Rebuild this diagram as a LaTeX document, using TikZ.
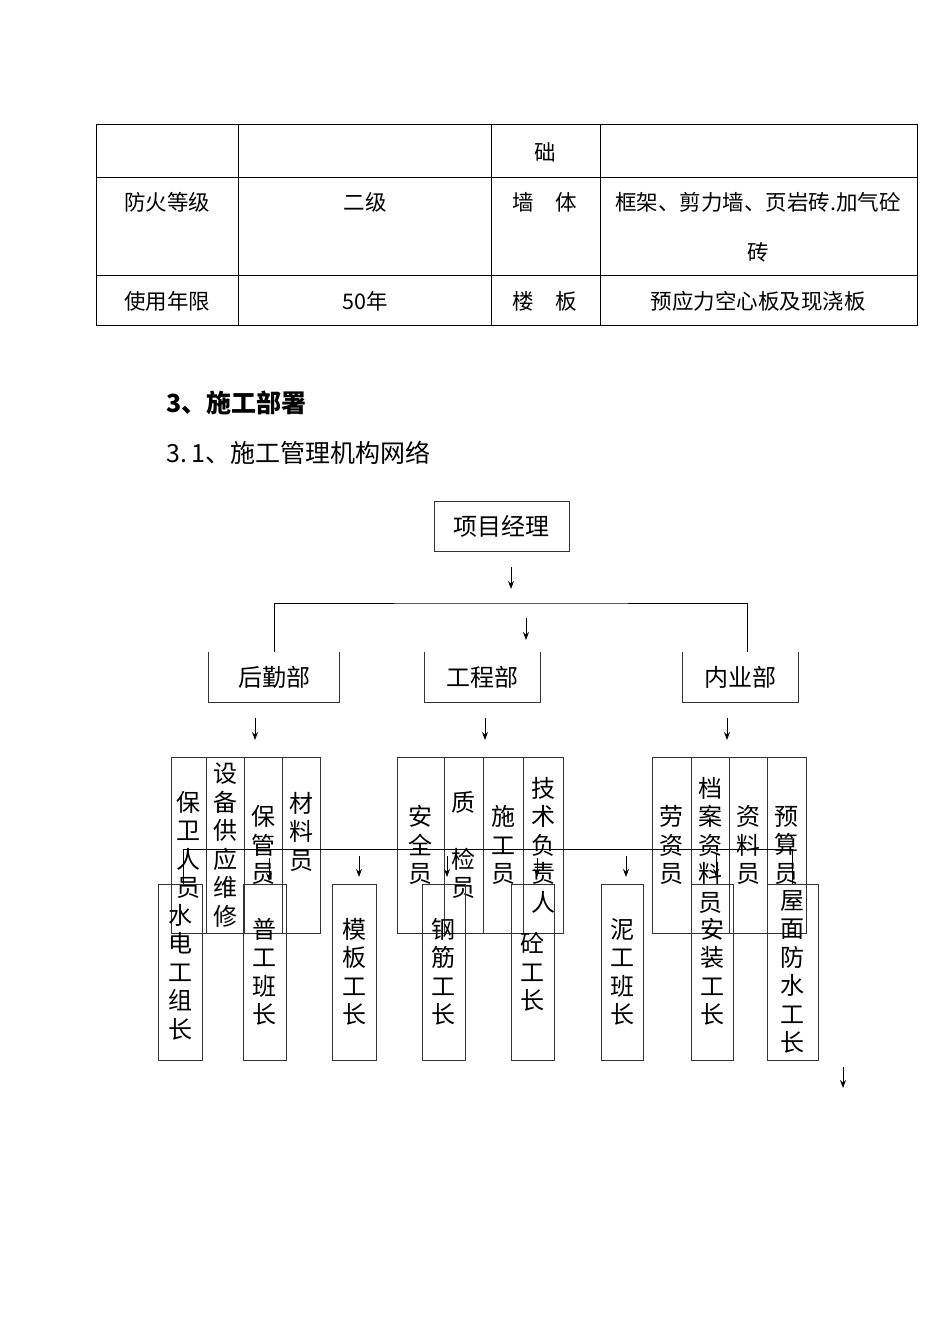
\documentclass[tikz,border=0pt]{standalone}
\usepackage{fontspec}
\newfontfamily\cjk{Noto Sans CJK SC}
\usetikzlibrary{arrows.meta}
\tikzset{
  cell/.style={font=\cjk\fontsize{21.5}{26}\selectfont, inner sep=0pt},
  unitbox/.style={draw=black!80, line width=0.8pt, inner sep=0pt, align=center,
    font=\cjk\fontsize{24}{28.5}\selectfont},
  dept/.style={unitbox, draw=none, minimum height=50pt},
  colbox/.style={unitbox, minimum height=176pt},
  openbox/.style={draw=black!80, line width=0.8pt},
  link/.style={line width=0.9pt},
  arr/.style={-{Stealth[length=8pt,width=6pt]}, line width=1pt},
}
\begin{document}
\begin{tikzpicture}[x=1pt,y=-1pt]
\useasboundingbox (0,0) rectangle (950,1344);
\draw[line width=1pt] (96,124) rectangle (917,325);
\draw[line width=1pt] (96,177) -- (917,177) (96,275) -- (917,275);
\draw[line width=1pt] (238,124) -- (238,325) (491,124) -- (491,325) (600,124) -- (600,325);
\node[cell] (t1) at (545,152) {础};
\node[cell] (t2) at (167,202) {防火等级};
\node[cell] (t3) at (365,202) {二级};
\node[cell] (t4) at (545,202) {墙　体};
\node[cell] (t5) at (758,202) {框架、剪力墙、页岩砖.加气砼};
\node[cell] (t6) at (758,252) {砖};
\node[cell] (t7) at (167,301) {使用年限};
\node[cell] (t8) at (365,301) {50年};
\node[cell] (t9) at (545,301) {楼　板};
\node[cell] (t10) at (758,301) {预应力空心板及现浇板};
\node[anchor=west, inner sep=0pt, font=\cjk\bfseries\fontsize{25}{30}\selectfont] (sec) at (166,403) {3、施工部署};
\node[anchor=west, inner sep=0pt, font=\cjk\fontsize{25}{30}\selectfont] (subsec) at (166,453) {3.\,1、施工管理机构网络};
\node[unitbox, minimum width=135pt, minimum height=50pt] (pm) at (501.5,526) {项目经理};
\node[dept, minimum width=130pt] (hq) at (274,677) {后勤部};
\node[dept, minimum width=115pt] (gc) at (482.5,677) {工程部};
\node[dept, minimum width=115pt] (ny) at (740.5,677) {内业部};
\draw[openbox] (hq.north west) |- (hq.south east) -- (hq.north east);
\draw[openbox] (gc.north west) |- (gc.south east) -- (gc.north east);
\draw[openbox] (ny.north west) |- (ny.south east) -- (ny.north east);
\coordinate (bus1) at (511,603);
\draw[link] (hq.north) |- (bus1) -| ([xshift=6.5pt]ny.north);
\coordinate (a1) at (511,567);
\coordinate (a2) at (526,618);
\coordinate (a3) at (255,718);
\coordinate (a4) at (485,718);
\coordinate (a5) at (727,718);
\draw[arr] (a1) -- ++(0,22);
\draw[arr] (a2) -- ++(0,22);
\draw[arr] (a3) -- ++(0,22);
\draw[arr] (a4) -- ++(0,22);
\draw[arr] (a5) -- ++(0,22);
% 第三层
\node[colbox, minimum width=35pt] (bw) at (188.5,845) {保\\卫\\人\\员};
\node[colbox, minimum width=38pt] (sb) at (225,845) {设\\备\\供\\应\\维\\修};
\node[colbox, minimum width=38pt] (bg) at (263,845) {保\\管\\员};
\node[colbox, minimum width=38pt] (cl) at (301,845) {材\\料\\员\\\mbox{}};
\node[colbox, minimum width=47pt] (aq) at (420.5,845) {安\\全\\员};
\node[colbox, minimum width=39pt] (zj) at (463.5,845) {质\\\mbox{}\\检\\员};
\node[colbox, minimum width=40pt] (sg) at (503,845) {施\\工\\员};
\node[colbox, minimum width=40pt] (js) at (543,845) {技\\术\\负\\责\\人};
\node[colbox, minimum width=39pt] (lz) at (671.5,845) {劳\\资\\员};
\node[colbox, minimum width=38pt] (da) at (710,845) {档\\案\\资\\料\\员};
\node[colbox, minimum width=38pt] (zl) at (748,845) {资\\料\\员};
\node[colbox, minimum width=39pt] (ys) at (786.5,845) {预\\算\\员};
% 第四层
\node[colbox, minimum width=44pt] (sd) at (180,972) {水\\电\\工\\组\\长};
\node[colbox, minimum width=43pt] (pg) at (264.5,972) {普\\工\\班\\长};
\node[colbox, minimum width=44pt] (mb) at (354,972) {模\\板\\工\\长};
\node[colbox, minimum width=43pt] (gj) at (443.5,972) {钢\\筋\\工\\长};
\node[colbox, minimum width=43pt] (tg) at (532.5,972) {砼\\工\\长};
\node[colbox, minimum width=42pt] (ng) at (622,972) {泥\\工\\班\\长};
\node[colbox, minimum width=42pt] (az) at (712,972) {安\\装\\工\\长};
\node[colbox, minimum width=51pt] (wm) at (792.5,972) {屋\\面\\防\\水\\工\\长};
\coordinate (bus2) at (500,849);
\draw[link] ([xshift=3pt]sd.north) |- (bus2) -| (wm.north);
\coordinate (b1) at (269,858);
\coordinate (b2) at (359,856);
\coordinate (b3) at (447,856);
\coordinate (b4) at (537,858);
\coordinate (b5) at (626,856);
\coordinate (b6) at (716,854);
\coordinate (b7) at (843,1067);
\draw[arr] (b1) -- ++(0,23);
\draw[arr] (b2) -- ++(0,21);
\draw[arr] (b3) -- ++(0,21);
\draw[arr] (b4) -- ++(0,19);
\draw[arr] (b5) -- ++(0,21);
\draw[arr] (b6) -- ++(0,23);
\draw[arr] (b7) -- ++(0,21);
\end{tikzpicture}
\end{document}
